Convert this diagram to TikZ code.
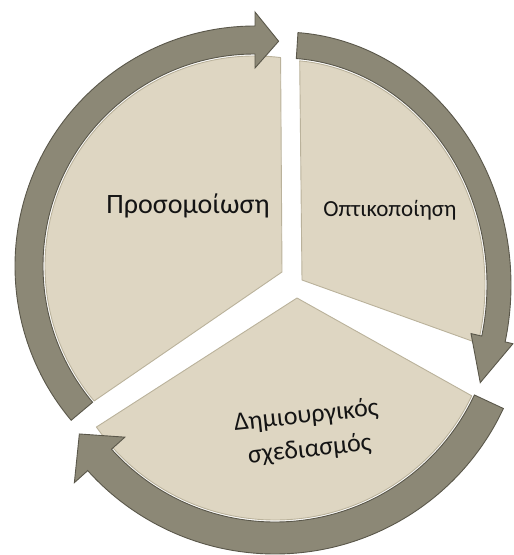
\documentclass[tikz,border=0pt]{standalone}
\usepackage{fontspec}
\setmainfont{Carlito}
\usetikzlibrary{calc}
\definecolor{pieface}{RGB}{222,214,194}
\definecolor{pieedge}{RGB}{186,178,155}
\definecolor{ringgray}{RGB}{140,136,118}
\definecolor{ringdark}{RGB}{90,87,74}
\definecolor{labeltext}{RGB}{20,20,20}
\tikzset{
  segment/.style={fill=pieface, draw=pieedge, line width=0.9pt, line join=round},
  ring/.style={fill=ringgray, draw=ringdark, line width=0.9pt, line join=miter},
  seglabel/.style={text=labeltext, inner sep=0pt}
}

\begin{document}
\begin{tikzpicture}[x=1pt, y=1pt]
  \useasboundingbox (0,0) rectangle (514,555);
  % arc centres and segment apexes
  \coordinate (cL) at (255,289);
  \coordinate (cR) at (282,270);
  \coordinate (cB) at (275,253);
  \coordinate (aL) at (282,283);
  \coordinate (aR) at (302,275);
  \coordinate (aB) at (297,257);

  % segments
  \draw[segment] (aL) -- ($(cL)+(83:210)$) arc[start angle=83, end angle=220, radius=210] -- cycle;
  \draw[segment] (aR) -- ($(cR)+(85:203 and 225)$) arc[start angle=85, end angle=-15, x radius=203, y radius=225] -- cycle;
  \draw[segment] (aB) -- ($(cB)+(215:218)$) arc[start angle=215, end angle=334.5, radius=218] -- cycle;

  % arrows round the segments
  \draw[ring] ($(cL)+(220:240)$) arc[start angle=220, end angle=90, radius=240]
    -- ($(cL)+(90:254)$) -- ($(cL)+(84:226)$) -- ($(cL)+(90:198)$) -- ($(cL)+(90:212)$)
    arc[start angle=90, end angle=220, radius=212] -- cycle;
  \draw[ring] ($(cR)+(86:229 and 253)$) arc[start angle=86, end angle=-13, x radius=229, y radius=253]
    -- ($(cR)+(-13:237 and 261)$) -- ($(cR)+(-24:217 and 240)$) -- ($(cR)+(-13:194 and 216)$) -- ($(cR)+(-13:205 and 227)$)
    arc[start angle=-13, end angle=86, x radius=205, y radius=227] -- cycle;
  \draw[ring] ($(cB)+(335:252)$) arc[start angle=335, end angle=222, radius=252]
    -- ($(cB)+(222:270)$) -- ($(cB)+(214:236)$) -- ($(cB)+(222:202)$) -- ($(cB)+(222:220)$)
    arc[start angle=222, end angle=335, radius=220] -- cycle;

  % labels
  \node[seglabel, font=\fontsize{28}{33}\selectfont, anchor=base] (sim) at (188,341) {Προσομοίωση};
  \node[seglabel, font=\fontsize{23}{28}\selectfont, anchor=base] (vis) at (390,338) {Οπτικοποίηση};
  \node[seglabel, font=\fontsize{26}{34}\selectfont, align=center, rotate=6] (design) at (308,122) {Δημιουργικός\\σχεδιασμός};
\end{tikzpicture}
\end{document}
